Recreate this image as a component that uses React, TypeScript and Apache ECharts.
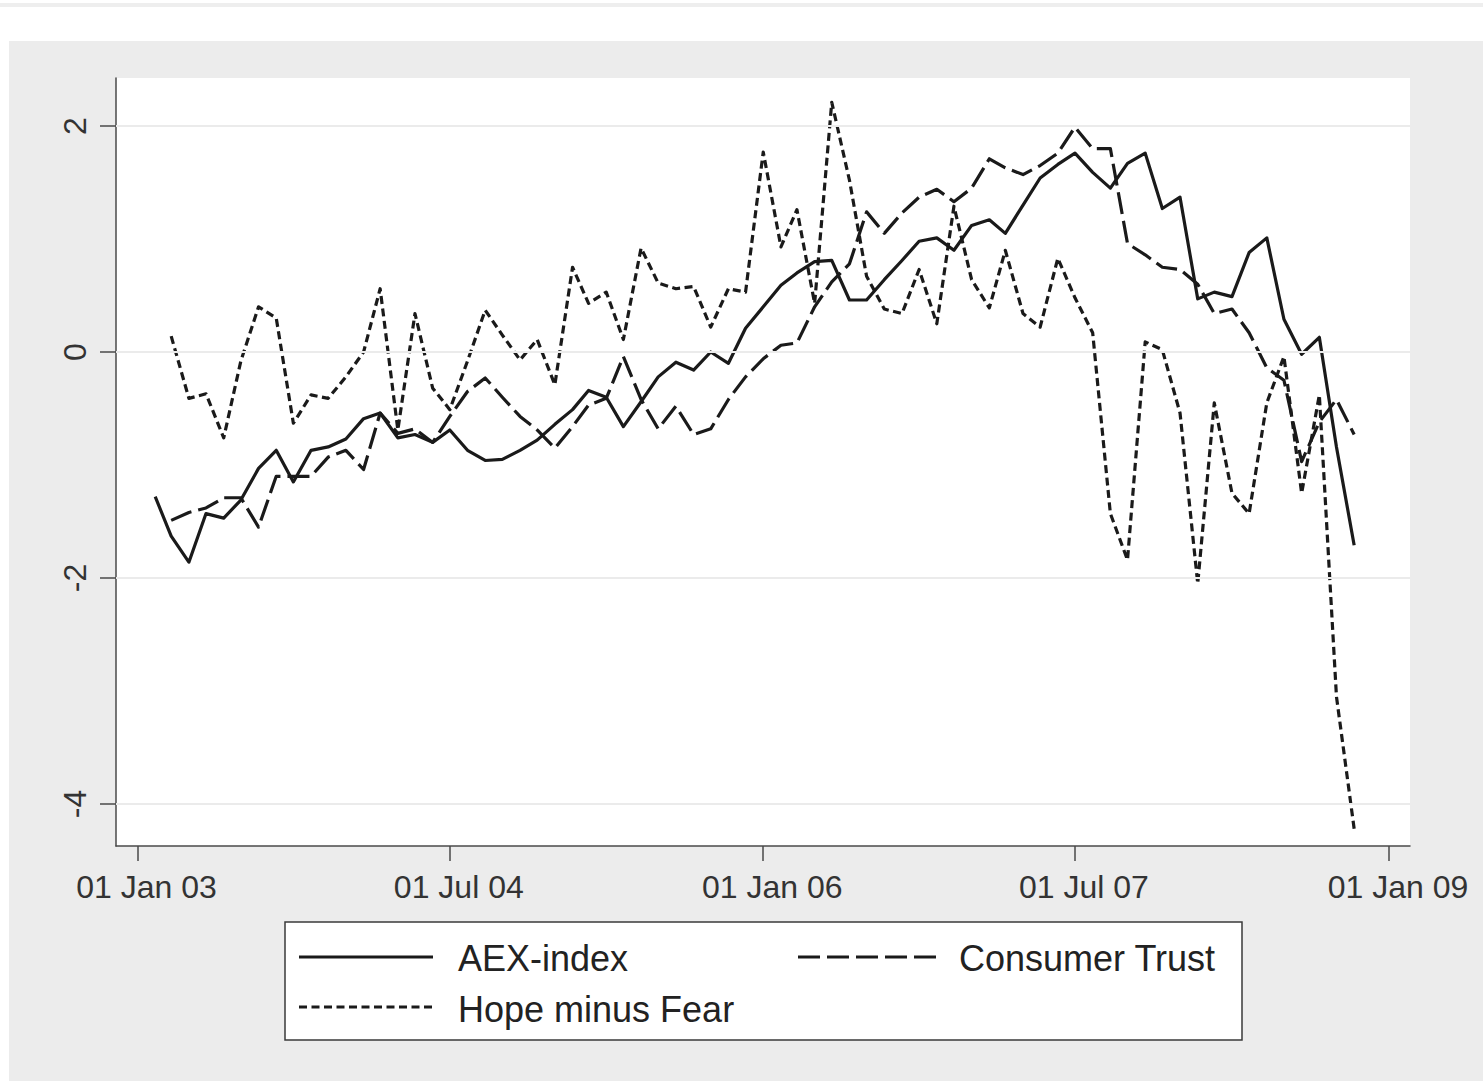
import React, { useEffect, useRef } from "react";
import * as echarts from "echarts";

// Monthly observations (first of month)
const months = [
  "2003-02", "2003-03", "2003-04", "2003-05", "2003-06", "2003-07", "2003-08", "2003-09", "2003-10", "2003-11", "2003-12",
  "2004-01", "2004-02", "2004-03", "2004-04", "2004-05", "2004-06", "2004-07", "2004-08", "2004-09", "2004-10", "2004-11", "2004-12",
  "2005-01", "2005-02", "2005-03", "2005-04", "2005-05", "2005-06", "2005-07", "2005-08", "2005-09", "2005-10", "2005-11", "2005-12",
  "2006-01", "2006-02", "2006-03", "2006-04", "2006-05", "2006-06", "2006-07", "2006-08", "2006-09", "2006-10", "2006-11", "2006-12",
  "2007-01", "2007-02", "2007-03", "2007-04", "2007-05", "2007-06", "2007-07", "2007-08", "2007-09", "2007-10", "2007-11", "2007-12",
  "2008-01", "2008-02", "2008-03", "2008-04", "2008-05", "2008-06", "2008-07", "2008-08", "2008-09", "2008-10", "2008-11",
];

const aexIndex = [
  -1.28, -1.63, -1.86, -1.43, -1.47, -1.31, -1.03, -0.87, -1.15, -0.87, -0.84,
  -0.77, -0.59, -0.54, -0.76, -0.73, -0.80, -0.69, -0.87, -0.96, -0.95, -0.87, -0.78,
  -0.64, -0.51, -0.34, -0.40, -0.66, -0.44, -0.22, -0.09, -0.16, 0.00, -0.10, 0.21,
  0.40, 0.59, 0.70, 0.80, 0.81, 0.46, 0.46, 0.64, 0.81, 0.98, 1.01, 0.90,
  1.12, 1.17, 1.05, 1.30, 1.54, 1.66, 1.76, 1.59, 1.45, 1.67, 1.76, 1.27,
  1.37, 0.47, 0.53, 0.49, 0.88, 1.01, 0.29, -0.02, 0.13, -0.84, -1.71,
];

const consumerTrust = [
  null, -1.49, -1.42, -1.38, -1.29, -1.29, -1.55, -1.10, -1.10, -1.10, -0.93,
  -0.87, -1.04, -0.54, -0.72, -0.68, -0.80, -0.57, -0.35, -0.23, -0.40, -0.57, -0.69,
  -0.85, -0.66, -0.47, -0.41, -0.04, -0.42, -0.68, -0.48, -0.73, -0.68, -0.42, -0.22,
  -0.06, 0.06, 0.08, 0.40, 0.62, 0.78, 1.24, 1.05, 1.23, 1.37, 1.44, 1.33,
  1.45, 1.71, 1.63, 1.57, 1.65, 1.76, 1.99, 1.80, 1.80, 0.96, 0.86, 0.75,
  0.73, 0.60, 0.34, 0.38, 0.17, -0.14, -0.25, -0.97, -0.62, -0.42, -0.73,
];

const hopeMinusFear = [
  null, 0.14, -0.41, -0.37, -0.76, -0.08, 0.40, 0.30, -0.63, -0.38, -0.41,
  -0.22, 0.00, 0.56, -0.69, 0.34, -0.32, -0.51, -0.08, 0.37, 0.15, -0.07, 0.11,
  -0.29, 0.75, 0.43, 0.53, 0.11, 0.92, 0.61, 0.56, 0.58, 0.22, 0.56, 0.53,
  1.77, 0.93, 1.26, 0.43, 2.21, 1.52, 0.67, 0.38, 0.34, 0.73, 0.25, 1.29,
  0.64, 0.39, 0.90, 0.34, 0.22, 0.83, 0.48, 0.17, -1.43, -1.84, 0.09, 0.02,
  -0.54, -2.05, -0.45, -1.25, -1.43, -0.45, -0.04, -1.25, -0.38, -3.05, -4.22,
];

const seriesNames = ["AEX-index", "Consumer Trust", "Hope minus Fear"];
const yTicks = [-4, -2, 0, 2];
const xTickDates = ["2003-01-01", "2004-07-01", "2006-01-01", "2007-07-01", "2009-01-01"];
const xTickLabels = ["01 Jan 03", "01 Jul 04", "01 Jan 06", "01 Jul 07", "01 Jan 09"];

const DAY = 86400000;
function toMs(s: string): number {
  const p = s.split("-").map(Number);
  return Date.UTC(p[0], p[1] - 1, p[2] || 1);
}

export default function App() {
  const ref = useRef<HTMLDivElement>(null);

  useEffect(() => {
    document.body.style.margin = "0";
    const chart = echarts.init(ref.current as HTMLDivElement, null, { renderer: "svg" });
    const FONT = "'Liberation Sans', Arial, Helvetica, sans-serif";
    const INK = "#1a1a1a";
    const AXIS = "#4a4a4a";
    const xTickMs = xTickDates.map(toMs);
    const pair = (vals: (number | null)[]) => months.map((m, i) => [toMs(m), vals[i]]);
    const longDash = [22, 7];
    const shortDash = [8, 4.5];

    const labelFor = (v: number) => {
      let best = 0;
      let bestD = Infinity;
      xTickMs.forEach((t, i) => {
        const d = Math.abs(t - v);
        if (d < bestD) { bestD = d; best = i; }
      });
      return bestD < 2 * DAY ? xTickLabels[best] : "";
    };

    const lineSeries = (name: string, vals: (number | null)[], dash: any) => ({
      name,
      type: "line",
      data: pair(vals),
      showSymbol: false,
      symbol: "none",
      connectNulls: false,
      z: 3,
      silent: true,
      lineStyle: { color: INK, width: 3.2, type: dash, join: "round" },
    });

    const option: any = {
      animation: false,
      backgroundColor: "#ffffff",
      textStyle: { fontFamily: FONT },
      grid: {
        left: 116, top: 78, width: 1294, height: 768,
        show: true, backgroundColor: "#ffffff", borderWidth: 0,
      },
      xAxis: {
        type: "value",
        min: xTickMs[0] - 37.66 * DAY,
        max: xTickMs[xTickMs.length - 1] + 36.8 * DAY,
        axisLine: { show: true, onZero: false, lineStyle: { color: AXIS, width: 1.5 } },
        axisTick: { show: true, customValues: xTickMs, length: 15, lineStyle: { color: AXIS, width: 1.5 } },
        axisLabel: {
          customValues: xTickMs,
          formatter: (v: number) => labelFor(v),
          fontSize: 32, color: "#333333", margin: 25, fontFamily: FONT,
          padding: [0, 0, 0, 18],
        },
        splitLine: { show: false },
      },
      yAxis: {
        type: "value",
        min: -4.3717,
        max: 2.4248,
        axisLine: { show: true, onZero: false, lineStyle: { color: AXIS, width: 1.5 } },
        axisTick: { show: true, customValues: yTicks, length: 16, lineStyle: { color: AXIS, width: 1.5 } },
        axisLabel: {
          customValues: yTicks,
          rotate: 90,
          fontSize: 32, color: "#333333", margin: 25, fontFamily: FONT,
        },
        splitLine: { show: false },
      },
      series: [
        {
          type: "line",
          data: [],
          z: 1,
          silent: true,
          markLine: {
            silent: true,
            symbol: ["none", "none"],
            label: { show: false },
            lineStyle: { color: "#ebebeb", width: 2, type: "solid" },
            emphasis: { disabled: true },
            data: yTicks.map((v) => ({ yAxis: v })),
          },
        },
        lineSeries(seriesNames[0], aexIndex, "solid"),
        lineSeries(seriesNames[1], consumerTrust, longDash),
        lineSeries(seriesNames[2], hopeMinusFear, shortDash),
      ],
      graphic: [
        { type: "rect", z: -10, silent: true, shape: { x: 0, y: 3, width: 1483, height: 4 }, style: { fill: "#eeeeee" } },
        { type: "rect", z: -10, silent: true, shape: { x: 9, y: 41, width: 1474, height: 1040 }, style: { fill: "#ececec" } },
        {
          type: "group",
          z: 10,
          silent: true,
          children: [
            { type: "rect", shape: { x: 285, y: 922, width: 957, height: 118 }, style: { fill: "#ffffff", stroke: "#3a3a3a", lineWidth: 1.5 } },
            { type: "line", shape: { x1: 299, y1: 957, x2: 433, y2: 957 }, style: { stroke: INK, lineWidth: 3 } },
            { type: "text", x: 458, y: 958, style: { text: seriesNames[0], fontSize: 36, fontFamily: FONT, fill: "#222222", verticalAlign: "middle", align: "left" } },
            { type: "line", shape: { x1: 798, y1: 957, x2: 936, y2: 957 }, style: { stroke: INK, lineWidth: 3, lineDash: longDash } },
            { type: "text", x: 959, y: 958, style: { text: seriesNames[1], fontSize: 36, fontFamily: FONT, fill: "#222222", verticalAlign: "middle", align: "left" } },
            { type: "line", shape: { x1: 299, y1: 1007, x2: 433, y2: 1007 }, style: { stroke: INK, lineWidth: 3, lineDash: shortDash } },
            { type: "text", x: 458, y: 1009, style: { text: seriesNames[2], fontSize: 36, fontFamily: FONT, fill: "#222222", verticalAlign: "middle", align: "left" } },
          ],
        },
      ],
    };

    chart.setOption(option);
    return () => chart.dispose();
  }, []);

  return <div ref={ref} style={{ width: 1483, height: 1081 }} />;
}
